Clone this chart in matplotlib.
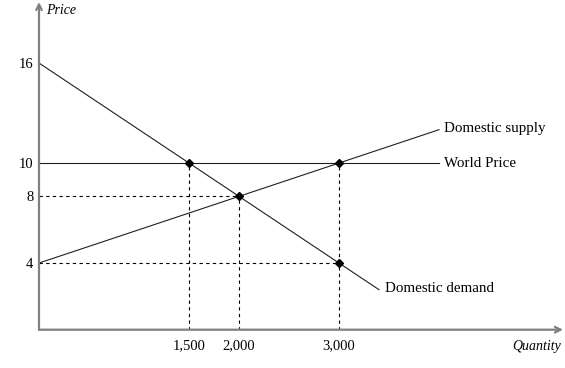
import matplotlib
matplotlib.use("Agg")
import matplotlib.pyplot as plt

# data
world_price = 10
demand_q = [0, 3400]
demand_p = [16, 2.4]
supply_q = [0, 4000]
supply_p = [4, 12]
world_q = [0, 4000]
points_q = [1500, 2000, 3000, 3000]
points_p = [10, 8, 10, 4]
xticks = [1500, 2000, 3000]
xtick_labels = ["1,500", "2,000", "3,000"]
yticks = [4, 8, 10, 16]
ytick_labels = ["4", "8", "10", "16"]

W, H = 565, 368
fig = plt.figure(figsize=(W/100, H/100), dpi=100)
x0, y0 = 39, 329.7
x1, ytop = 563, 2
ax = fig.add_axes([x0/W, (H-y0)/H, (x1-x0)/W, (y0-ytop)/H])
xmax = (x1 - x0) * 10
ymax = (y0 - ytop) / (100/6)
ax.set_xlim(0, xmax)
ax.set_ylim(0, ymax)
for s in ax.spines.values():
    s.set_visible(False)

font = "Liberation Serif"
fs = 10.8
axis_col = "#808080"
# axes with arrows
ax.annotate("", xy=(1, 0), xytext=(0, 0), xycoords="axes fraction",
            arrowprops=dict(arrowstyle="->", color=axis_col, lw=1.6, shrinkA=0, shrinkB=0))
ax.annotate("", xy=(0, 1), xytext=(0, 0), xycoords="axes fraction",
            arrowprops=dict(arrowstyle="->", color=axis_col, lw=1.6, shrinkA=0, shrinkB=0))

lc = "#202020"
ax.plot(demand_q, demand_p, color=lc, lw=0.8)
ax.plot(supply_q, supply_p, color=lc, lw=0.8)
ax.plot(world_q, [world_price, world_price], color=lc, lw=0.8)

dash = dict(color="black", lw=0.8, linestyle=(0, (3, 3)))
ax.plot([0, 2000], [8, 8], **dash)
ax.plot([0, 3000], [4, 4], **dash)
ax.plot([1500, 1500], [0, 10], **dash)
ax.plot([2000, 2000], [0, 8], **dash)
ax.plot([3000, 3000], [0, 10], **dash)

ax.plot(points_q, points_p, linestyle="none", marker="D", markersize=4, color="black")

ax.set_xticks(xticks)
ax.set_xticklabels(xtick_labels, fontfamily=font, fontsize=10.5)
ax.set_yticks(yticks)
ax.set_yticklabels(ytick_labels, fontfamily=font, fontsize=10.5)
ax.tick_params(axis="x", length=0, pad=7)
ax.tick_params(axis="y", length=0, pad=4)

ax.text(4050, 12.1, "Domestic supply", fontfamily=font, fontsize=fs, va="center", ha="left")
ax.text(4050, 10, "World Price", fontfamily=font, fontsize=fs, va="center", ha="left")
ax.text(3460, 2.45, "Domestic demand", fontfamily=font, fontsize=fs, va="center", ha="left")
ax.text(70, ymax - 0.5, "Price", fontfamily=font, fontsize=10, style="italic", va="center", ha="left")
ax.text(xmax - 20, -1, "Quantity", fontfamily=font, fontsize=10, style="italic", va="center", ha="right")

fig.savefig("out.png", dpi=100)
